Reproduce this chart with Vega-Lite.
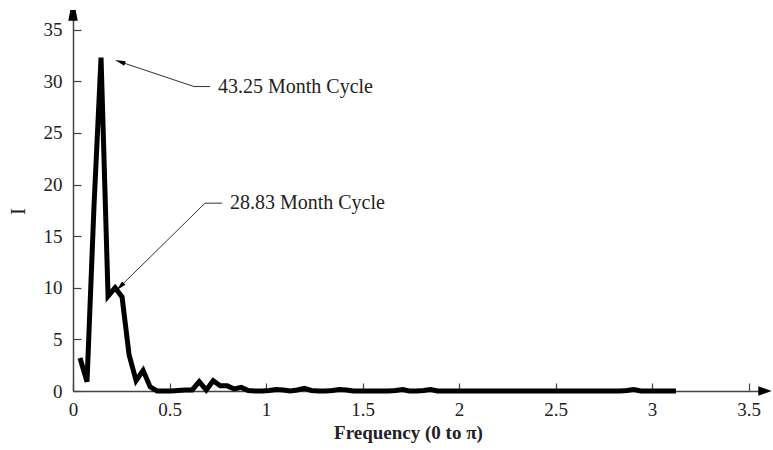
{
  "$schema": "https://vega.github.io/schema/vega-lite/v6.json",
  "width": 692,
  "height": 377,
  "autosize": {"type": "none"},
  "padding": {"left": 73, "top": 14, "right": 8, "bottom": 59},
  "background": "white",
  "config": {
    "view": {"stroke": null},
    "font": "Liberation Serif",
    "axis": {
      "labelFont": "Liberation Serif",
      "labelFontSize": 19,
      "labelColor": "#222",
      "titleFont": "Liberation Serif",
      "titleFontSize": 19,
      "titleFontWeight": "bold",
      "titleColor": "#222",
      "domainColor": "#444",
      "domainWidth": 1.5,
      "tickColor": "#444",
      "tickWidth": 1.2,
      "tickSize": -8,
      "grid": false,
      "labelFlush": false
    }
  },
  "datasets": {
    "spectrum": [
      {"k": 1, "I": 3.2}, {"k": 2, "I": 0.9}, {"k": 3, "I": 18}, {"k": 4, "I": 32.3},
      {"k": 5, "I": 9.2}, {"k": 6, "I": 10.0}, {"k": 7, "I": 9.1}, {"k": 8, "I": 3.5},
      {"k": 9, "I": 1.0}, {"k": 10, "I": 2.0}, {"k": 11, "I": 0.4}, {"k": 12, "I": 0.0},
      {"k": 13, "I": 0.0}, {"k": 14, "I": 0.0}, {"k": 15, "I": 0.05}, {"k": 16, "I": 0.1},
      {"k": 17, "I": 0.1}, {"k": 18, "I": 0.9}, {"k": 19, "I": 0.1}, {"k": 20, "I": 1.0},
      {"k": 21, "I": 0.5}, {"k": 22, "I": 0.5}, {"k": 23, "I": 0.2}, {"k": 24, "I": 0.35},
      {"k": 25, "I": 0.05}, {"k": 26, "I": 0.0}, {"k": 27, "I": 0.0}, {"k": 28, "I": 0.05},
      {"k": 29, "I": 0.15}, {"k": 30, "I": 0.1}, {"k": 31, "I": 0.0}, {"k": 32, "I": 0.1},
      {"k": 33, "I": 0.25}, {"k": 34, "I": 0.05}, {"k": 35, "I": 0.0}, {"k": 36, "I": 0.0},
      {"k": 37, "I": 0.05}, {"k": 38, "I": 0.15}, {"k": 39, "I": 0.1}, {"k": 40, "I": 0.0},
      {"k": 41, "I": 0.0}, {"k": 42, "I": 0.0}, {"k": 43, "I": 0.0}, {"k": 44, "I": 0.0},
      {"k": 45, "I": 0.0}, {"k": 46, "I": 0.05}, {"k": 47, "I": 0.15}, {"k": 48, "I": 0.0},
      {"k": 49, "I": 0.0}, {"k": 50, "I": 0.05}, {"k": 51, "I": 0.15}, {"k": 52, "I": 0.0},
      {"k": 53, "I": 0.0}, {"k": 54, "I": 0.0}, {"k": 55, "I": 0.0}, {"k": 56, "I": 0.0},
      {"k": 57, "I": 0.0}, {"k": 58, "I": 0.0}, {"k": 59, "I": 0.0}, {"k": 60, "I": 0.0},
      {"k": 61, "I": 0.0}, {"k": 62, "I": 0.0}, {"k": 63, "I": 0.0}, {"k": 64, "I": 0.0},
      {"k": 65, "I": 0.0}, {"k": 66, "I": 0.0}, {"k": 67, "I": 0.0}, {"k": 68, "I": 0.0},
      {"k": 69, "I": 0.0}, {"k": 70, "I": 0.0}, {"k": 71, "I": 0.0}, {"k": 72, "I": 0.0},
      {"k": 73, "I": 0.0}, {"k": 74, "I": 0.0}, {"k": 75, "I": 0.0}, {"k": 76, "I": 0.0},
      {"k": 77, "I": 0.0}, {"k": 78, "I": 0.0}, {"k": 79, "I": 0.05}, {"k": 80, "I": 0.15},
      {"k": 81, "I": 0.0}, {"k": 82, "I": 0.0}, {"k": 83, "I": 0.0}, {"k": 84, "I": 0.0},
      {"k": 85, "I": 0.0}, {"k": 86, "I": 0.0}
    ],
    "leaders": [
      {"id": "a", "o": 1, "x": 0.2435, "y": 31.9},
      {"id": "a", "o": 2, "x": 0.627, "y": 29.5},
      {"id": "a", "o": 3, "x": 0.71, "y": 29.5},
      {"id": "b", "o": 1, "x": 0.2435, "y": 10.1},
      {"id": "b", "o": 2, "x": 0.684, "y": 18.2},
      {"id": "b", "o": 3, "x": 0.772, "y": 18.2}
    ]
  },
  "layer": [
    {
      "data": {"name": "spectrum"},
      "transform": [{"calculate": "datum.k * 2 * PI / 173", "as": "freq"}],
      "mark": {"type": "line", "color": "black", "strokeWidth": 5, "strokeJoin": "miter", "clip": false},
      "encoding": {
        "x": {
          "field": "freq", "type": "quantitative",
          "scale": {"domain": [0, 3.585], "nice": false, "zero": true},
          "axis": {"values": [0, 0.5, 1, 1.5, 2, 2.5, 3, 3.5], "format": ".1~f", "title": "Frequency (0 to π)", "labelPadding": 17, "titlePadding": 4, "titleX": 335}
        },
        "y": {
          "field": "I", "type": "quantitative",
          "scale": {"domain": [0, 36.53], "nice": false},
          "axis": {"values": [0, 5, 10, 15, 20, 25, 30, 35], "title": "I", "titleFontWeight": "normal", "titleFontSize": 21, "titleAngle": -90, "titleBaseline": "middle", "titleY": 197, "labelPadding": 19, "titleX": -55}
        }
      }
    },
    {
      "data": {"name": "leaders"},
      "mark": {"type": "line", "color": "#333", "strokeWidth": 1},
      "encoding": {
        "x": {"field": "x", "type": "quantitative"},
        "y": {"field": "y", "type": "quantitative"},
        "detail": {"field": "id"},
        "order": {"field": "o"}
      }
    },
    {
      "data": {"values": [{"x": 0.2435, "y": 31.9}]},
      "mark": {"type": "point", "shape": "M0,-1L0.45,1L-0.45,1Z", "filled": true, "color": "black", "size": 110, "angle": 289, "opacity": 1},
      "encoding": {"x": {"field": "x", "type": "quantitative"}, "y": {"field": "y", "type": "quantitative"}}
    },
    {
      "data": {"values": [{"x": 0.2435, "y": 10.1}]},
      "mark": {"type": "point", "shape": "M0,-1L0.45,1L-0.45,1Z", "filled": true, "color": "black", "size": 110, "angle": 225, "opacity": 1},
      "encoding": {"x": {"field": "x", "type": "quantitative"}, "y": {"field": "y", "type": "quantitative"}}
    },
    {
      "data": {"values": [{"label": "43.25 Month Cycle", "x": 0.751, "y": 29.5}, {"label": "28.83 Month Cycle", "x": 0.813, "y": 18.2}]},
      "mark": {"type": "text", "align": "left", "baseline": "middle", "font": "Liberation Serif", "fontSize": 20, "color": "#222"},
      "encoding": {
        "x": {"field": "x", "type": "quantitative"},
        "y": {"field": "y", "type": "quantitative"},
        "text": {"field": "label"}
      }
    },
    {
      "data": {"values": [{"x": 3.585, "y": 0}]},
      "mark": {"type": "point", "shape": "M-1,-0.7L1,0L-1,0.7Z", "filled": true, "color": "black", "size": 180, "opacity": 1, "clip": false},
      "encoding": {"x": {"field": "x", "type": "quantitative"}, "y": {"field": "y", "type": "quantitative"}}
    },
    {
      "data": {"values": [{"x": 0, "y": 36.53}]},
      "mark": {"type": "point", "shape": "M-0.7,1L0.7,1L0.4,-0.6L-0.4,-0.6Z", "filled": true, "color": "black", "size": 180, "opacity": 1, "clip": false},
      "encoding": {"x": {"field": "x", "type": "quantitative"}, "y": {"field": "y", "type": "quantitative"}}
    }
  ]
}
